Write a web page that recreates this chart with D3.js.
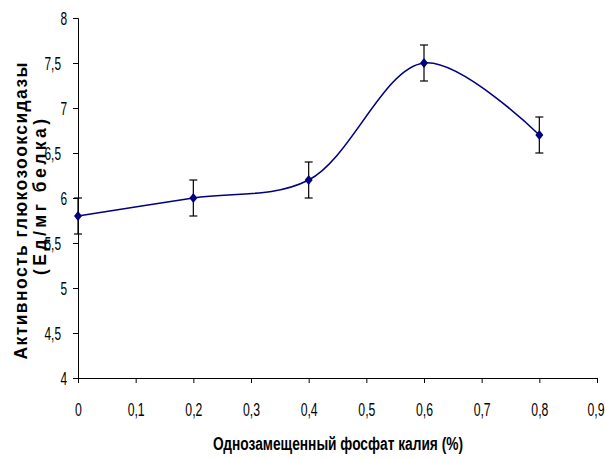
<!DOCTYPE html>
<html><head><meta charset="utf-8">
<script src="https://cdn.jsdelivr.net/npm/d3@7"></script>
<style>body{margin:0;background:#fff}</style>
</head><body>
<svg id="c" width="605" height="459"></svg>
<script>
const xValues = [0, 0.2, 0.4, 0.6, 0.8];
const yValues = [5.8, 6.0, 6.2, 7.5, 6.7];
const errValues = [0.2, 0.2, 0.2, 0.2, 0.2];
const xTicks = [0,0.1,0.2,0.3,0.4,0.5,0.6,0.7,0.8,0.9];
const yTicks = [4,4.5,5,5.5,6,6.5,7,7.5,8];
const yTitle = ["Активность глюкозооксидазы", "(Ед/мг белка)"];
const xTitle = "Однозамещенный фосфат калия (%)";

const svg = d3.select("#c");
const x = d3.scaleLinear().domain([0,0.9]).range([78,597]);
const y = d3.scaleLinear().domain([4,8]).range([378,18]);
const fmt = d => String(d).replace(".", ",");
const sans = "'Liberation Sans',Arial,sans-serif";
const SXx = 0.68, SXy = 0.66;

const xa = svg.append("g").attr("transform","translate(0,378)")
  .call(d3.axisBottom(x).tickValues(xTicks).tickFormat(fmt).tickSize(5).tickPadding(20));
const ya = svg.append("g").attr("transform","translate(78,0)")
  .call(d3.axisLeft(y).tickValues(yTicks).tickFormat(fmt).tickSize(5).tickPadding(6));
[xa,ya].forEach(a=>{
  a.attr("font-size",null).attr("font-family",null);
  a.select(".domain").attr("stroke","#000").attr("stroke-width",1);
  a.selectAll(".tick line").attr("stroke","#000");
  a.selectAll("text").style("font-family",sans).style("font-size","18px").attr("fill","#000");
});
xa.selectAll(".tick text").attr("y",38).attr("dy",null)
  .attr("x", d => (d === 0.9 ? -1.5 : 0) / SXx)
  .attr("transform",`scale(${SXx},1)`);
ya.selectAll(".tick text")
  .attr("x", d => (Number.isInteger(d) ? -11 : -17) / SXy)
  .attr("dy","0.36em")
  .attr("transform",`scale(${SXy},1)`);

const pts = xValues.map((v,i)=>[x(v), y(yValues[i])]);
svg.append("path").attr("d", d3.line().curve(d3.curveCatmullRom.alpha(0.5))(pts))
  .attr("fill","none").attr("stroke","#000080").attr("stroke-width",1.6);

const eb = svg.append("g").attr("stroke","#000").attr("stroke-width",1.2);
xValues.forEach((v,i)=>{
  const cx = x(v), t = y(yValues[i]+errValues[i]), b = y(yValues[i]-errValues[i]);
  eb.append("line").attr("x1",cx).attr("x2",cx).attr("y1",t).attr("y2",b);
  eb.append("line").attr("x1",cx-4).attr("x2",cx+4).attr("y1",t).attr("y2",t);
  eb.append("line").attr("x1",cx-4).attr("x2",cx+4).attr("y1",b).attr("y2",b);
});

svg.append("g").selectAll("path").data(pts).join("path")
  .attr("d", d=>`M${d[0]},${d[1]-5}L${d[0]+4},${d[1]}L${d[0]},${d[1]+5}L${d[0]-4},${d[1]}Z`)
  .attr("fill","#000080");

svg.append("text").attr("transform","translate(27,211) rotate(-90)")
  .attr("text-anchor","middle").style("font-family",sans)
  .attr("font-weight","bold").style("font-size","17.5px")
  .attr("textLength",297).attr("lengthAdjust","spacing").text(yTitle[0]);
svg.append("text").attr("transform","translate(46,197) rotate(-90)")
  .attr("text-anchor","middle").style("font-family",sans)
  .attr("font-weight","bold").style("font-size","17.5px")
  .attr("textLength",156).attr("lengthAdjust","spacing").text(yTitle[1]);

svg.append("text").attr("x",213).attr("y",450)
  .style("font-family",sans).attr("font-weight","bold").style("font-size","17.5px")
  .attr("textLength",250).attr("lengthAdjust","spacingAndGlyphs").text(xTitle);
</script>
</body></html>
